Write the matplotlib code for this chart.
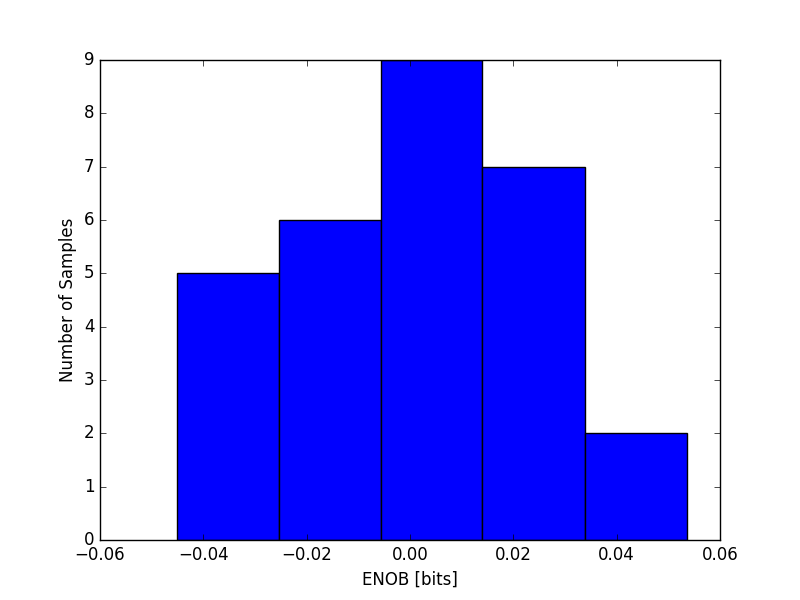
import matplotlib
matplotlib.use("Agg")
import matplotlib.pyplot as plt

# Histogram data
bin_edges = [-0.0451, -0.0254, -0.0056, 0.0139, 0.0339, 0.0536]
counts = [5, 6, 9, 7, 2]

plt.style.use("classic")

fig, ax = plt.subplots(figsize=(8, 6), dpi=100)
ax.hist(bin_edges[:-1], bins=bin_edges, weights=counts, color="blue", edgecolor="black")
ax.set_xlim(-0.06, 0.06)
ax.set_ylim(0, 9)
ax.set_xlabel("ENOB [bits]")
ax.set_ylabel("Number of Samples")

fig.savefig("out.png", dpi=100)
